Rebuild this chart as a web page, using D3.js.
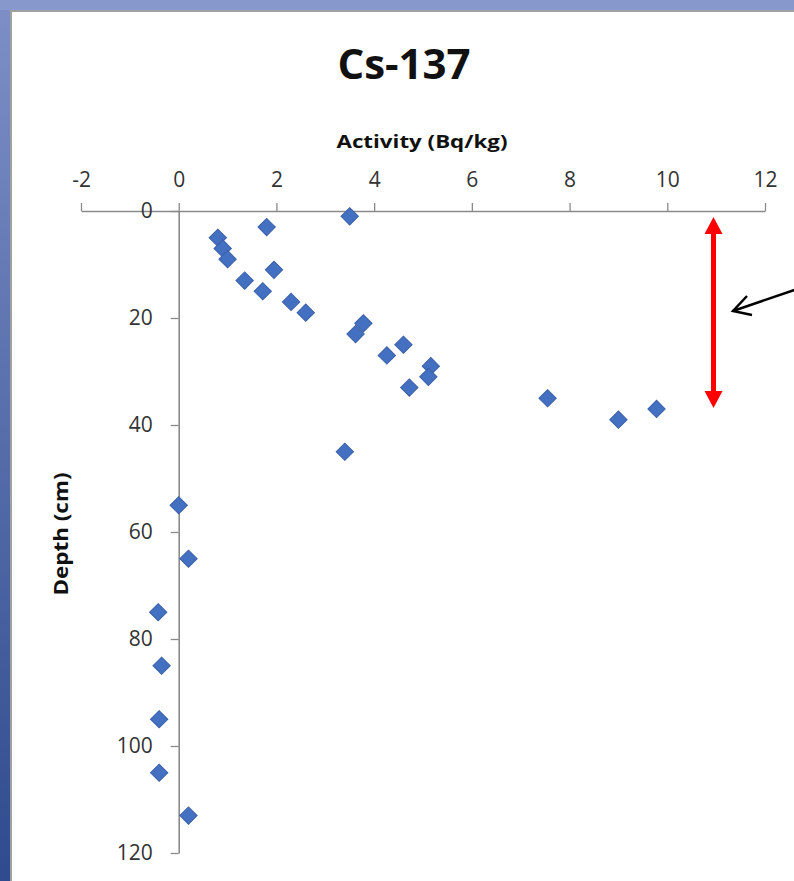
<!DOCTYPE html>
<html><head><meta charset="utf-8">
<script src="https://cdn.jsdelivr.net/npm/d3@7"></script>
<style>html,body{margin:0;padding:0;background:#fff;}svg{display:block;}</style>
</head><body>
<svg id="c" width="794" height="881"></svg>
<script>
const activity = [3.5, 1.8, 0.8, 0.9, 1.0, 1.95, 1.35, 1.72, 2.3, 2.6, 3.78, 3.62, 4.6, 4.26, 5.16, 5.11, 4.72, 7.55, 9.78, 9.0, 3.4, 0.0, 0.2, -0.42, -0.35, -0.4, -0.4, 0.2];
const depth    = [1,   3,   5,   7,   9,   11,   13,   15,   17,  19,  21,   23,   25,  27,   29,   31,   33,   35,   37,   39,  45,  55,  65,  75,    85,    95,   105,  113];
const xTicks = [-2, 0, 2, 4, 6, 8, 10, 12];
const yTicks = [0, 20, 40, 60, 80, 100, 120];
const title = "Cs-137";
const xLabel = "Activity (Bq/kg)";
const yLabel = "Depth (cm)";

const svg = d3.select("#c");
const defs = svg.append("defs");
const g1 = defs.append("linearGradient").attr("id","frame").attr("x1",0).attr("y1",0).attr("x2",0).attr("y2",1);
g1.append("stop").attr("offset","0%").attr("stop-color","#7d8fc6");
g1.append("stop").attr("offset","100%").attr("stop-color","#2f4b8d");
svg.append("rect").attr("width",794).attr("height",881).attr("fill","url(#frame)");
svg.append("rect").attr("x",0).attr("y",0).attr("width",794).attr("height",10).attr("fill","#8799cc");
svg.append("rect").attr("x",10).attr("y",10).attr("width",784).attr("height",871).attr("fill","#a0a0a0");
svg.append("rect").attr("x",12).attr("y",12).attr("width",782).attr("height",869).attr("fill","#ffffff");

const x = d3.scaleLinear().domain([-2, 12]).range([81, 765]);
const y = d3.scaleLinear().domain([0, 120]).range([211, 853]);
const font = "'Open Sans', 'Liberation Sans', sans-serif";
const fmt = d => String(d); // hyphen-minus like the reference

// x axis (top)
const xa = svg.append("g").attr("transform",`translate(0,${y(0)})`)
  .call(d3.axisTop(x).tickValues(xTicks).tickFormat(fmt).tickSize(8).tickPadding(16).tickSizeOuter(0));
// y axis at x=0
const ya = svg.append("g").attr("transform",`translate(${x(0)},0)`)
  .call(d3.axisLeft(y).tickValues(yTicks).tickFormat(fmt).tickSize(8).tickPadding(18).tickSizeOuter(0));
[xa, ya].forEach(a => {
  a.select(".domain").attr("stroke","#8a8a8a").attr("stroke-width",1.6);
  a.selectAll(".tick line").attr("stroke","#8a8a8a").attr("stroke-width",1.3);
  a.selectAll(".tick text").attr("fill","#333").style("font-family",font).style("font-size","21px");
});

// points
const pts = activity.map((v,i)=>({v, d:depth[i]}));
svg.append("g").selectAll("path").data(pts).join("path")
  .attr("d", d3.symbol().type(d3.symbolSquare).size(150))
  .attr("transform", p => `translate(${x(p.v)},${y(p.d)}) rotate(45)`)
  .attr("fill","#4470c2").attr("stroke","#3b60a8").attr("stroke-width",1);

// titles
svg.append("text").attr("x",404).attr("y",79).attr("text-anchor","middle")
  .style("font-family",font).style("font-weight","bold").style("font-size","42px").attr("fill","#111").text(title);
svg.append("text").attr("x",422).attr("y",148).attr("text-anchor","middle")
  .attr("textLength",171).attr("lengthAdjust","spacingAndGlyphs")
  .style("font-family",font).style("font-weight","bold").style("font-size","18px").attr("fill","#111").text(xLabel);
svg.append("text").attr("transform","translate(68,534) rotate(-90)").attr("text-anchor","middle")
  .attr("textLength",123).attr("lengthAdjust","spacingAndGlyphs")
  .style("font-family",font).style("font-weight","bold").style("font-size","19px").attr("fill","#111").text(yLabel);

// red double arrow
const ax = 713.5, ay1 = 217, ay2 = 408;
svg.append("line").attr("x1",ax).attr("x2",ax).attr("y1",ay1+14).attr("y2",ay2-14)
  .attr("stroke","#ff0000").attr("stroke-width",5);
svg.append("path").attr("d",`M${ax},${ay1} L${ax-9},${ay1+17} L${ax+9},${ay1+17} Z`).attr("fill","#ff0000");
svg.append("path").attr("d",`M${ax},${ay2} L${ax-9},${ay2-17} L${ax+9},${ay2-17} Z`).attr("fill","#ff0000");

// black arrow
svg.append("line").attr("x1",800).attr("y1",288).attr("x2",733).attr("y2",311)
  .attr("stroke","#000").attr("stroke-width",2.5);
svg.append("path").attr("d","M747,296 L733,311 L752,315")
  .attr("fill","none").attr("stroke","#000").attr("stroke-width",2.5).attr("stroke-linejoin","miter");
</script>
</body></html>
